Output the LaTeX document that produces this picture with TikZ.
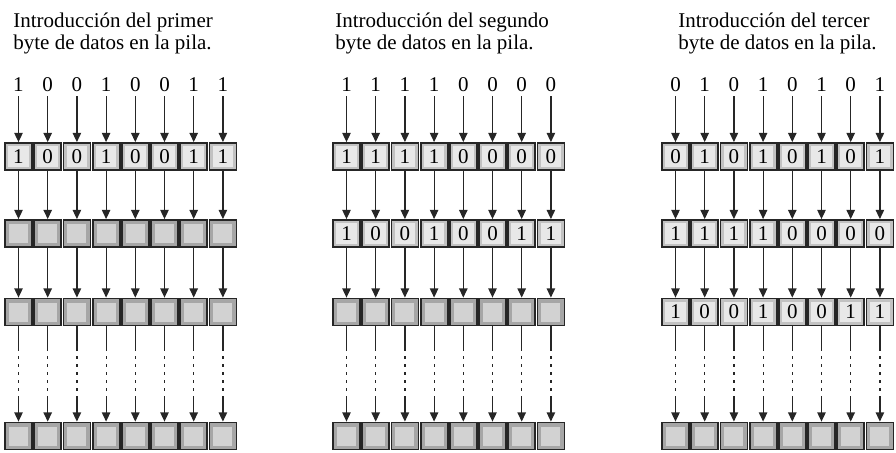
\documentclass[tikz,border=0pt]{standalone}
\usepackage{fontspec}
\setmainfont{Liberation Serif}
\usetikzlibrary{arrows.meta, positioning}
\definecolor{cellgray}{HTML}{A6A6A6}
\definecolor{celllight}{HTML}{D2D2D2}
\definecolor{bitgray}{HTML}{C2C2C2}
\definecolor{bitlight}{HTML}{E8E8E8}
\definecolor{edgegray}{HTML}{262626}
\tikzset{
	stackcell/.style={draw=edgegray, line width=0.9pt, fill=#1, minimum size=13.5pt,
		inner sep=0pt, font=\fontsize{10.5}{12}\selectfont},
	emptycell/.style={stackcell=cellgray,
		path picture={\fill[celllight] ([shift={(2pt,2pt)}]path picture bounding box.south west)
			rectangle ([shift={(-2pt,-2pt)}]path picture bounding box.north east);}},
	bitcell/.style={stackcell=bitgray,
		path picture={\fill[bitlight] ([shift={(1.6pt,1.6pt)}]path picture bounding box.south west)
			rectangle ([shift={(-1.6pt,-1.6pt)}]path picture bounding box.north east);}}
}
\tikzset{
	inbit/.style={inner sep=2pt, font=\fontsize{10.5}{12}\selectfont}
}
\tikzset{
	titletext/.style={inner sep=0pt, align=left, font=\fontsize{10.5}{11.25}\selectfont}
}
\tikzset{
	pusharrow/.style={draw=edgegray, line width=0.6pt, -{Triangle[length=4.6pt,width=4.2pt]}}
}
% row of filled stack cells: name, x, y, bits
\newcommand{\bitrow}[4]{%
	\foreach \b [count=\i from 0] in {#4} {
		\node[bitcell] (#1-\i) at (#2+29.2*\i,#3) {\b};
	}%
}
% row of empty stack cells: name, x, y
\newcommand{\emptyrow}[3]{%
	\foreach \i in {0,...,7} {
		\node[emptycell] (#1-\i) at (#2+29.2*\i,#3) {};
	}%
}
% input byte above a stack: name, x, bits
\newcommand{\inrow}[3]{%
	\foreach \b [count=\i from 0] in {#3} {
		\node[inbit] (#1-\i) at (#2+29.2*\i,85) {\b};
	}%
}
\begin{document}
\begin{tikzpicture}[x=0.5pt, y=-0.5pt]
\useasboundingbox (0,0) rectangle (896,452);

\node[titletext, anchor=north west] (t1) at (13,12) {Introducción del primer\\byte de datos en la pila.};
\node[titletext, anchor=north west] (t2) at (335,12) {Introducción del segundo\\byte de datos en la pila.};
\node[titletext, anchor=north west] (t3) at (678,12) {Introducción del tercer\\byte de datos en la pila.};

% primer byte
\inrow{in1}{18.5}{1,0,0,1,0,0,1,1}
\bitrow{p1r1}{18.5}{156.5}{1,0,0,1,0,0,1,1}
\emptyrow{p1r2}{18.5}{233.5}
\emptyrow{p1r3}{18.5}{312}
\emptyrow{p1r4}{18.5}{436}

% segundo byte
\inrow{in2}{346.5}{1,1,1,1,0,0,0,0}
\bitrow{p2r1}{346.5}{156.5}{1,1,1,1,0,0,0,0}
\bitrow{p2r2}{346.5}{233.5}{1,0,0,1,0,0,1,1}
\emptyrow{p2r3}{346.5}{312}
\emptyrow{p2r4}{346.5}{436}

% tercer byte
\inrow{in3}{675.5}{0,1,0,1,0,1,0,1}
\bitrow{p3r1}{675.5}{156.5}{0,1,0,1,0,1,0,1}
\bitrow{p3r2}{675.5}{233.5}{1,1,1,1,0,0,0,0}
\bitrow{p3r3}{675.5}{312}{1,0,0,1,0,0,1,1}
\emptyrow{p3r4}{675.5}{436}

\foreach \p in {1,2,3} {
	\foreach \i in {0,...,7} {
		\draw[pusharrow] (in\p-\i) -- (p\p r1-\i);
		\draw[pusharrow] (p\p r1-\i) -- (p\p r2-\i);
		\draw[pusharrow] (p\p r2-\i) -- (p\p r3-\i);
		\path (p\p r3-\i.south) ++(0,22) coordinate (p\p da-\i) ++(0,48) coordinate (p\p db-\i);
		\draw[draw=edgegray, line width=0.6pt] (p\p r3-\i) -- (p\p da-\i);
		\draw[draw=edgegray, line width=0.6pt, dash pattern=on 1.5pt off 2.5pt] (p\p da-\i) -- (p\p db-\i);
		\draw[pusharrow] (p\p db-\i) -- (p\p r4-\i);
	}
}

\end{tikzpicture}
\end{document}
